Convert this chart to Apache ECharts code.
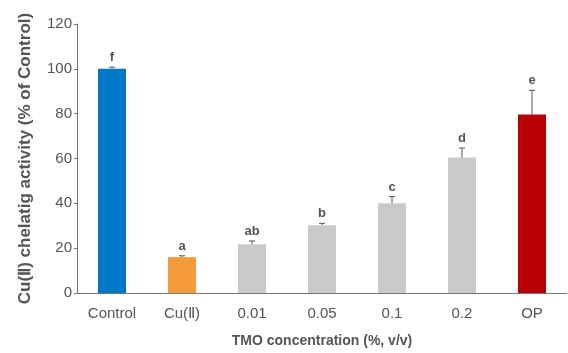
<!DOCTYPE html>
<html><head><meta charset="utf-8">
<script src="https://cdn.jsdelivr.net/npm/echarts@6/dist/echarts.min.js"></script>
<style>html,body{margin:0;padding:0;background:#fff}#c{width:568px;height:353px}</style>
</head><body><div id="c"></div>
<script>
const categories = ['Control', 'Cu(Ⅱ)', '0.01', '0.05', '0.1', '0.2', 'OP'];
const values = [100, 16, 21.8, 30.2, 40, 60.4, 79.6];
const errors = [0.8, 0.6, 1.4, 0.9, 3, 4.3, 10.8];
const letters = ['f', 'a', 'ab', 'b', 'c', 'd', 'e'];
const barColors = ['#0077C8', '#F39B38', '#C9CACA', '#C9CACA', '#C9CACA', '#C9CACA', '#B90005'];
const yTicks = [0, 20, 40, 60, 80, 100, 120];

const FONT = 'Liberation Sans, Arial, sans-serif';
const chart = echarts.init(document.getElementById('c'));
chart.setOption({
  animation: false,
  grid: { left: 77, right: 1, top: 24, bottom: 59 },
  xAxis: {
    type: 'category',
    data: categories,
    name: 'TMO concentration (%, v/v)',
    nameLocation: 'middle',
    nameGap: 41,
    nameTextStyle: { fontFamily: FONT, fontSize: 14, fontWeight: 'bold', color: '#555' },
    axisLine: { lineStyle: { color: '#777', width: 1 } },
    axisTick: { inside: true, length: 4, lineStyle: { color: '#777' } },
    axisLabel: { fontFamily: FONT, fontSize: 15, color: '#555', margin: 13 }
  },
  yAxis: {
    type: 'value',
    min: yTicks[0], max: yTicks[yTicks.length - 1], interval: 20,
    name: 'Cu(Ⅱ) chelatig activity (% of Control)',
    nameLocation: 'middle',
    nameGap: 43,
    nameTextStyle: { fontFamily: FONT, fontSize: 17, fontWeight: 'bold', color: '#555' },
    splitLine: { show: false },
    axisLine: { show: true, lineStyle: { color: '#777', width: 1 } },
    axisTick: { show: true, length: 3, lineStyle: { color: '#777' } },
    axisLabel: { fontFamily: FONT, fontSize: 15, color: '#555', margin: 5 }
  },
  series: [
    {
      type: 'bar',
      barWidth: '40%',
      data: values.map((v, i) => ({ value: v, itemStyle: { color: barColors[i] } }))
    },
    {
      type: 'custom',
      data: values.map((v, i) => [i, v, errors[i]]),
      renderItem: function (params, api) {
        const i = api.value(0), v = api.value(1), e = api.value(2);
        const base = api.coord([i, v]);
        const top = api.coord([i, v + e]);
        const hw = 3;
        return {
          type: 'group',
          children: [
            { type: 'line', shape: { x1: base[0], y1: base[1], x2: top[0], y2: top[1] }, style: { stroke: '#555', lineWidth: 1 } },
            { type: 'line', shape: { x1: top[0] - hw, y1: top[1], x2: top[0] + hw, y2: top[1] }, style: { stroke: '#555', lineWidth: 1 } },
            { type: 'text', x: top[0], y: top[1] - 3, style: { text: letters[params.dataIndex], textAlign: 'center', textVerticalAlign: 'bottom', fontFamily: FONT, fontSize: 13, fontWeight: 'bold', fill: '#555' } }
          ]
        };
      },
      z: 3
    }
  ]
});
</script></body></html>
